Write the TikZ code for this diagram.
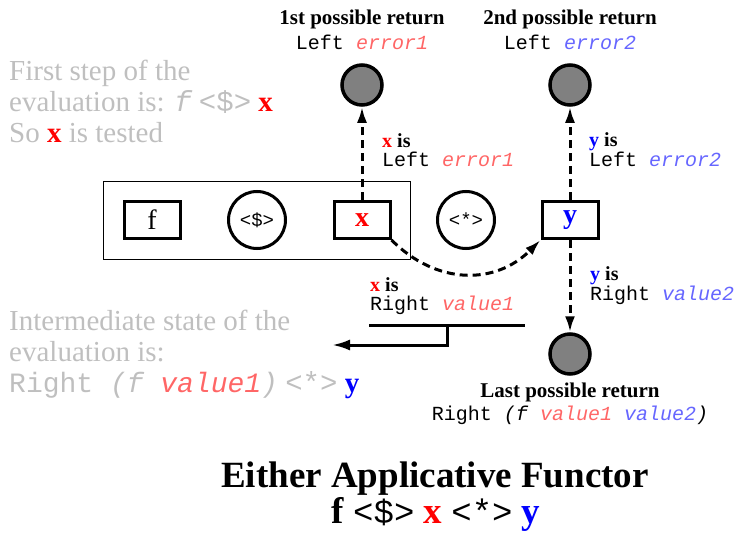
\documentclass[tikz,border=0pt]{standalone}
\usepackage{fontspec}
\setmainfont{Liberation Serif}
\setmonofont{Liberation Mono}
\usetikzlibrary{arrows.meta,fit}

\definecolor{errred}{RGB}{255,102,102}
\definecolor{errblue}{RGB}{102,102,255}
\definecolor{notegray}{RGB}{191,191,191}

\newcommand\varx{\textbf{\textcolor{red}{x}}}
\newcommand\vary{\textbf{\textcolor{blue}{y}}}

\begin{document}
\begin{tikzpicture}[
  x=1pt, y=-1pt,
  valbox/.style = {draw, line width=3pt, minimum width=56pt, minimum height=37pt,
                   inner sep=0pt, font=\fontsize{28}{28}\selectfont},
  opcirc/.style = {draw, circle, line width=3pt, minimum size=57pt, inner sep=0pt,
                   font=\ttfamily\fontsize{19}{19}\selectfont},
  ret/.style    = {draw, circle, fill=black!50, line width=3.5pt, minimum size=40pt, inner sep=0pt},
  flow/.style   = {line width=3pt, dash pattern=on 8pt off 5pt, -{Latex[length=16pt,width=10pt]}},
  bar/.style    = {line width=3pt},
  hdr/.style    = {font=\bfseries\fontsize{21}{21}\selectfont, anchor=base, inner sep=0pt},
  code/.style   = {font=\ttfamily\fontsize{20}{20}\selectfont, anchor=base, inner sep=0pt},
  cond/.style   = {align=left, anchor=base west, inner sep=0pt, font=\fontsize{20}{18.5}\selectfont},
  note/.style   = {text=notegray, align=left, anchor=base west, inner sep=0pt,
                   font=\fontsize{29}{31}\selectfont},
  title/.style  = {font=\bfseries\fontsize{37}{37}\selectfont, anchor=base, inner sep=0pt},
]

\def\xa{362}    % column x: x and its return
\def\xb{570}    % column x: y and its returns
\def\ry{220}    % row y: the expression

\useasboundingbox (0,0) rectangle (736,535);

% ---- the expression --------------------------------------------------------
\node[valbox] (f)    at (152, \ry) {f};
\node[opcirc] (fmap) at (257, \ry) {<\$>};
\node[valbox] (x)    at (\xa, \ry) {\varx};
\node[opcirc] (ap)   at (466, \ry) {<*>};
\node[valbox] (y)    at (\xb, \ry) {\vary};
\node[draw, line width=0.8pt, inner sep=19pt, fit=(f)(x)] (first) {};

% ---- possible returns ------------------------------------------------------
\node[ret] (r1) at (\xa, 85)  {};
\node[ret] (r2) at (\xb, 85)  {};
\node[ret] (r3) at (\xb, 354) {};

\node[hdr]  (r1hdr) at (\xa, 25) {1st possible return};
\node[code] (r1val) at (\xa, 49) {Left \textcolor{errred}{\itshape error1}};
\node[hdr]  (r2hdr) at (\xb, 25) {2nd possible return};
\node[code] (r2val) at (\xb, 49) {Left \textcolor{errblue}{\itshape error2}};
\node[hdr]  (r3hdr) at (\xb, 397) {Last possible return};
\node[code] (r3val) at (\xb, 420) {Right \itshape(f \textcolor{errred}{value1} \textcolor{errblue}{value2})};

% ---- flows -----------------------------------------------------------------
\draw[flow] (x) -- (r1);
\draw[flow] (y) -- (r2);
\draw[flow] (y) -- (r3);
\draw[flow] (x.south east) to[out=-45, in=-135, looseness=1.1] (y.south west);

% base anchor of a two-line node sits on its last line
\node[cond] (xleft)  at (382, 166) {\textbf{\textcolor{red}{x} is}\\\texttt{Left \textcolor{errred}{\itshape error1}}};
\node[cond] (yleft)  at (589, 166) {\textbf{\textcolor{blue}{y} is}\\\texttt{Left \textcolor{errblue}{\itshape error2}}};
\node[cond] (yright) at (590, 300) {\textbf{\textcolor{blue}{y} is}\\\texttt{Right \textcolor{errblue}{\itshape value2}}};
\node[cond] (xright) at (370, 310) {\textbf{\textcolor{red}{x} is}\\\texttt{Right \textcolor{errred}{\itshape value1}}};

% ---- x is Right: go on with the rest ---------------------------------------
\coordinate (barl) at (369, 325);
\coordinate (barr) at (525, 325);
\coordinate (stem) at (447, 325);
\coordinate (back) at (332, 345);
\draw[bar] (barl) -- (barr);
\draw[bar, -{Latex[length=18pt,width=11pt]}] (stem) |- (back);

% ---- notes -----------------------------------------------------------------
\node[note] (firststep) at (9, 142) {First step of the\\
  evaluation is: {\ttfamily\itshape f} {\ttfamily <\$>} \varx\\
  So \varx{} is tested};
\node[note] (midstate) at (9, 392) {Intermediate state of the\\
  evaluation is:\\
  {\ttfamily\fontsize{28}{31}\selectfont Right \itshape(f \textcolor{errred}{value1})} {\ttfamily <*>} \vary};

% ---- title -----------------------------------------------------------------
\node[title] (name) at (435, 487) {Either Applicative Functor};
\node[title] (expr) at (436, 523) {f {\ttfamily\mdseries\fontsize{34}{34}\selectfont <\$>}
  \textcolor{red}{x} {\ttfamily\mdseries\fontsize{34}{34}\selectfont <*>} \textcolor{blue}{y}};

\end{tikzpicture}
\end{document}
